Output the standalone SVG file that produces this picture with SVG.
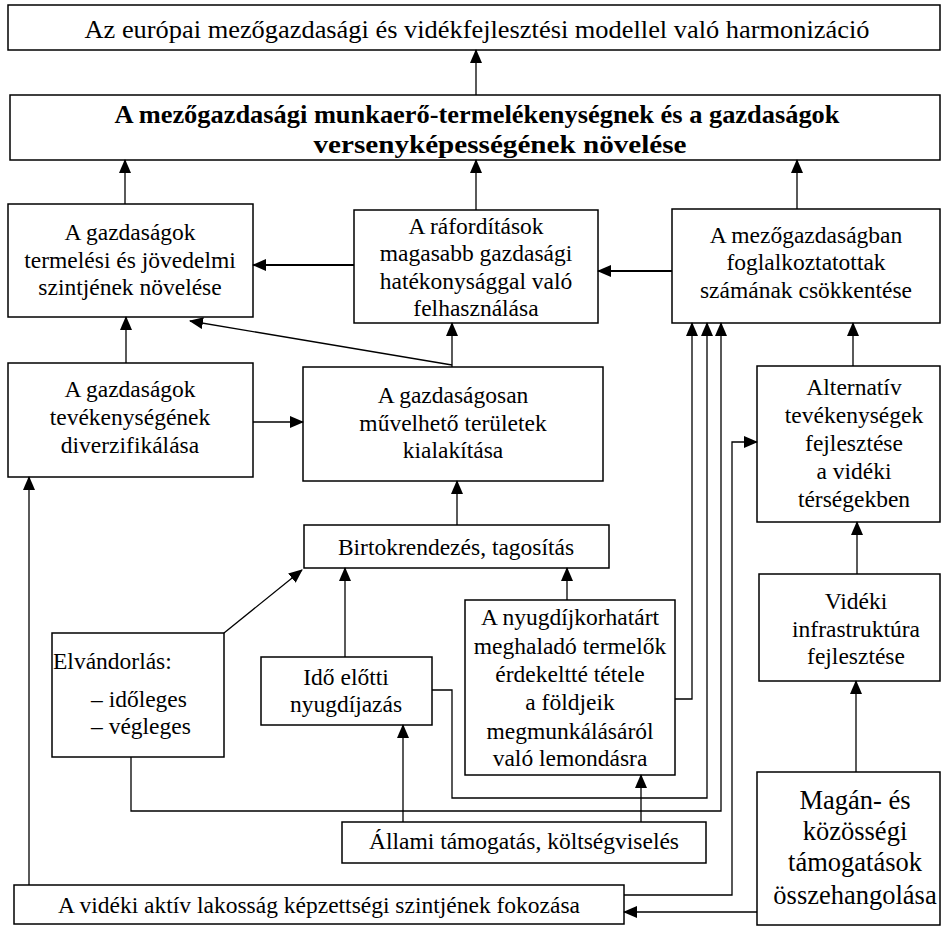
<svg xmlns="http://www.w3.org/2000/svg" width="943" height="927" viewBox="0 0 943 927">
<style>
rect{fill:#fff;stroke:#000;stroke-width:1.5}
text{font-family:"Liberation Serif","Times New Roman",serif;font-size:23.5px;fill:#000;text-anchor:middle}
.c path,.c line{fill:none;stroke:#000;stroke-width:1.3;marker-end:url(#ah)}
.c .th{stroke-width:2.2}
</style>
<defs>
<marker id="ah" markerUnits="userSpaceOnUse" markerWidth="14" markerHeight="12" refX="13" refY="6" orient="auto"><path d="M0,0 L14,6 L0,12 z" fill="#000"/></marker>
</defs>
<rect x="0" y="0" width="943" height="927" style="stroke:none"/>
<g id="n1"><rect x="8" y="5" width="932" height="45"/><text x="477" y="38" style="font-size:24.5px" textLength="785" lengthAdjust="spacingAndGlyphs">Az európai mezőgazdasági és vidékfejlesztési modellel való harmonizáció</text></g>
<g id="n2"><rect x="10" y="95" width="930" height="65"/><text x="477" y="123" style="font-size:25px;font-weight:bold" textLength="725" lengthAdjust="spacingAndGlyphs">A mezőgazdasági munkaerő-termelékenységnek és a gazdaságok</text><text x="500" y="153" style="font-size:25px;font-weight:bold" textLength="373" lengthAdjust="spacingAndGlyphs">versenyképességének növelése</text></g>
<g id="nA"><rect x="8" y="204" width="245" height="113"/><text x="130" y="240">A gazdaságok</text><text x="130" y="268">termelési és jövedelmi</text><text x="130" y="295">szintjének növelése</text></g>
<g id="nB"><rect x="354" y="210" width="244" height="113"/><text x="476" y="234">A ráfordítások</text><text x="476" y="261">magasabb gazdasági</text><text x="476" y="289">hatékonysággal való</text><text x="476" y="316">felhasználása</text></g>
<g id="nC"><rect x="672" y="209" width="268" height="114"/><text x="806" y="243">A mezőgazdaságban</text><text x="806" y="270">foglalkoztatottak</text><text x="806" y="298">számának csökkentése</text></g>
<g id="nD"><rect x="8" y="363" width="245" height="114"/><text x="130" y="397">A gazdaságok</text><text x="130" y="425">tevékenységének</text><text x="130" y="453">diverzifikálása</text></g>
<g id="nE"><rect x="303" y="367" width="300" height="114"/><text x="453" y="403">A gazdaságosan</text><text x="453" y="431">művelhető területek</text><text x="453" y="458">kialakítása</text></g>
<g id="nM"><rect x="757" y="366" width="183" height="156"/><text x="854" y="395">Alternatív</text><text x="854" y="423">tevékenységek</text><text x="854" y="451">fejlesztése</text><text x="854" y="479">a vidéki</text><text x="854" y="507">térségekben</text></g>
<g id="nF"><rect x="304" y="525" width="305" height="43"/><text x="456" y="555">Birtokrendezés, tagosítás</text></g>
<g id="nN"><rect x="759" y="574" width="181" height="107"/><text x="856" y="609">Vidéki</text><text x="856" y="637">infrastruktúra</text><text x="856" y="664">fejlesztése</text></g>
<g id="nI"><rect x="465" y="600" width="210" height="175"/><text x="570" y="625">A nyugdíjkorhatárt</text><text x="570" y="654">meghaladó termelők</text><text x="570" y="682">érdekeltté tétele</text><text x="570" y="710">a földjeik</text><text x="570" y="739">megmunkálásáról</text><text x="570" y="766">való lemondásra</text></g>
<g id="nG"><rect x="52" y="633" width="172" height="124"/><text x="53" y="669" style="text-anchor:start">Elvándorlás:</text><text x="91" y="707" style="text-anchor:start">– időleges</text><text x="91" y="734" style="text-anchor:start">– végleges</text></g>
<g id="nH"><rect x="261" y="657" width="171" height="68"/><text x="346" y="685">Idő előtti</text><text x="346" y="712">nyugdíjazás</text></g>
<g id="nJ"><rect x="342" y="822" width="364" height="41"/><text x="524" y="849">Állami támogatás, költségviselés</text></g>
<g id="nL"><rect x="757" y="772" width="183" height="153"/><text x="855" y="809" style="font-size:26.5px">Magán- és</text><text x="855" y="840" style="font-size:26.5px">közösségi</text><text x="855" y="871" style="font-size:26.5px">támogatások</text><text x="855" y="904" style="font-size:26.5px">összehangolása</text></g>
<g id="nK"><rect x="14" y="885" width="610" height="39"/><text x="319" y="913">A vidéki aktív lakosság képzettségi szintjének fokozása</text></g>
<g id="connectors" class="c">
<line x1="476" y1="95" x2="476" y2="50"/>
<line x1="125" y1="204" x2="125" y2="160"/>
<line x1="476" y1="210" x2="476" y2="160"/>
<line x1="797" y1="209" x2="797" y2="160"/>
<line class="th" x1="354" y1="265" x2="253" y2="265"/>
<line class="th" x1="672" y1="271" x2="598" y2="271"/>
<line x1="126" y1="363" x2="126" y2="317"/>
<line x1="253" y1="422" x2="303" y2="422"/>
<line x1="452" y1="367" x2="452" y2="323"/>
<line x1="452" y1="365" x2="190" y2="321"/>
<line x1="853" y1="366" x2="853" y2="323"/>
<line x1="457" y1="525" x2="457" y2="481"/>
<line x1="224" y1="633" x2="302" y2="570"/>
<line x1="345" y1="657" x2="345" y2="568"/>
<line x1="567" y1="600" x2="567" y2="568"/>
<line x1="403" y1="822" x2="403" y2="725"/>
<line x1="641" y1="822" x2="641" y2="775"/>
<line x1="29" y1="885" x2="29" y2="477"/>
<line x1="757" y1="912" x2="624" y2="912"/>
<line x1="857" y1="574" x2="857" y2="522"/>
<line x1="856" y1="772" x2="856" y2="681"/>
<path d="M675,699 H692 V323"/>
<path d="M432,690 H452 V798 H707 V323"/>
<path d="M131,757 V811 H721 V323"/>
<path d="M624,895 H732 V442 H757"/>
</g>
</svg>
